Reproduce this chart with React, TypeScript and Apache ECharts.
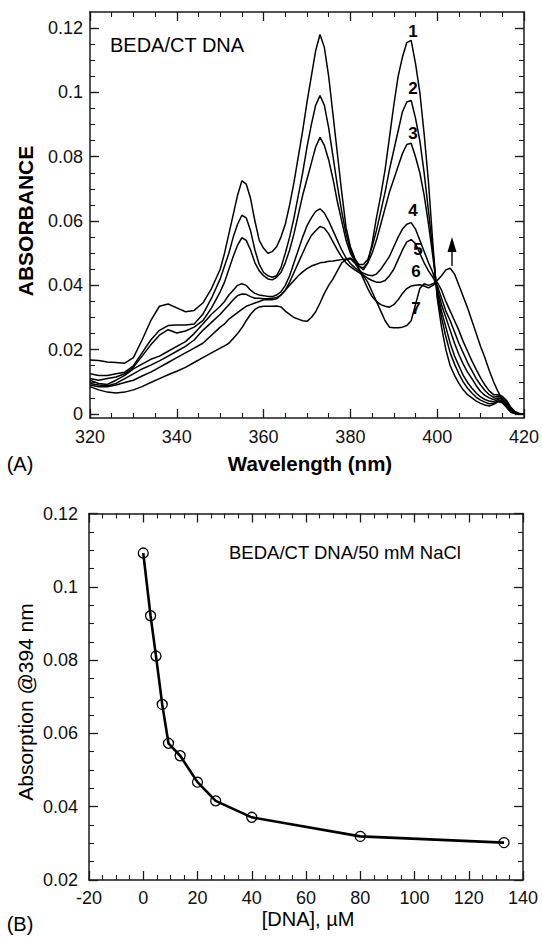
import React, { useEffect, useRef } from "react";
import * as echarts from "echarts";

// ---------- Panel A: absorption spectra ----------
const wavelengths = [
  320, 322, 324, 326, 328, 330, 332, 334, 336, 338, 340, 342, 344, 346, 348, 350,
  351, 352, 353, 354, 355, 356, 357, 358, 359, 360,
  361, 362, 363, 364, 365, 366, 367, 368, 369, 370,
  371, 372, 373, 374, 375, 376, 377, 378, 379, 380,
  381, 382, 383, 384, 385, 386, 387, 388, 389, 390,
  391, 392, 393, 394, 395, 396, 397, 398, 399, 400,
  401, 402, 403, 404, 405, 406, 407, 408, 409, 410,
  411, 412, 413, 414, 415, 416, 417, 418, 419, 420,
];

const curve1 = [
  0.0168, 0.0166, 0.0162, 0.016, 0.0158, 0.0175, 0.023, 0.029, 0.0335, 0.0342, 0.033, 0.0318, 0.0322, 0.0345, 0.039, 0.045,
  0.050, 0.056, 0.062, 0.068, 0.0725, 0.0715, 0.067, 0.060, 0.054, 0.0515,
  0.050, 0.0505, 0.052, 0.055, 0.059, 0.065, 0.072, 0.080, 0.088, 0.097,
  0.105, 0.113, 0.118, 0.114, 0.105, 0.093, 0.081, 0.069, 0.058, 0.052,
  0.0485, 0.046, 0.0448, 0.047, 0.053, 0.061, 0.068, 0.076, 0.086, 0.096,
  0.105, 0.111, 0.1155, 0.1162, 0.109, 0.100, 0.087, 0.072, 0.053, 0.036,
  0.027, 0.020, 0.015, 0.012, 0.0095, 0.0075, 0.006, 0.005, 0.004, 0.0033,
  0.0028, 0.0025, 0.003, 0.0038, 0.0035, 0.002, 0.0005, 0.0002, 0, 0,
];
const curve2 = [
  0.0125, 0.012, 0.012, 0.0125, 0.013, 0.015, 0.019, 0.023, 0.026, 0.0275, 0.0277, 0.0277, 0.028, 0.031, 0.036, 0.042,
  0.046, 0.050, 0.055, 0.059, 0.0618, 0.061, 0.057, 0.051, 0.0465, 0.044,
  0.043, 0.0425, 0.043, 0.0455, 0.050, 0.055, 0.061, 0.068, 0.075, 0.083,
  0.090, 0.096, 0.099, 0.096, 0.089, 0.080, 0.071, 0.063, 0.056, 0.051,
  0.048, 0.0465, 0.0465, 0.048, 0.052, 0.057, 0.063, 0.069, 0.076, 0.082,
  0.088, 0.094, 0.097, 0.0975, 0.092, 0.085, 0.075, 0.063, 0.051, 0.037,
  0.030, 0.024, 0.019, 0.0155, 0.0125, 0.010, 0.008, 0.0065, 0.0052, 0.0043,
  0.0037, 0.0032, 0.0033, 0.004, 0.0038, 0.0025, 0.001, 0.0003, 0, 0,
];
const curve3 = [
  0.011, 0.0105, 0.011, 0.0115, 0.0125, 0.0145, 0.018, 0.0215, 0.0245, 0.0262, 0.0252, 0.0258, 0.027, 0.029, 0.033, 0.038,
  0.041, 0.045, 0.049, 0.0525, 0.0548, 0.054, 0.051, 0.047, 0.0445, 0.043,
  0.042, 0.0417, 0.0425, 0.044, 0.047, 0.051, 0.056, 0.062, 0.068, 0.073,
  0.078, 0.083, 0.086, 0.0835, 0.079, 0.073, 0.066, 0.060, 0.054, 0.050,
  0.0475, 0.0458, 0.0455, 0.047, 0.050, 0.054, 0.059, 0.064, 0.069, 0.073,
  0.077, 0.081, 0.0838, 0.0842, 0.080, 0.075, 0.068, 0.059, 0.049, 0.038,
  0.032, 0.027, 0.022, 0.018, 0.015, 0.012, 0.0098, 0.008, 0.0065, 0.0053,
  0.0045, 0.004, 0.0038, 0.0045, 0.004, 0.003, 0.0012, 0.0004, 0, 0,
];
const curve4 = [
  0.0105, 0.0095, 0.0092, 0.0105, 0.012, 0.014, 0.0155, 0.017, 0.018, 0.0195, 0.021, 0.0225, 0.025, 0.028, 0.031, 0.0335,
  0.035, 0.037, 0.0385, 0.040, 0.0405, 0.040, 0.0385, 0.0375, 0.037, 0.0368,
  0.0365, 0.0365, 0.037, 0.038, 0.040, 0.043, 0.047, 0.051, 0.055, 0.0585,
  0.061, 0.063, 0.0638, 0.0625, 0.060, 0.057, 0.054, 0.051, 0.0485, 0.0468,
  0.0455, 0.0445, 0.0438, 0.0432, 0.043, 0.0435, 0.045, 0.047, 0.049, 0.052,
  0.055, 0.0575, 0.059, 0.0595, 0.0575, 0.054, 0.0505, 0.047, 0.044, 0.039,
  0.034, 0.030, 0.026, 0.022, 0.0185, 0.0155, 0.013, 0.011, 0.0088, 0.007,
  0.0058, 0.005, 0.0045, 0.005, 0.0045, 0.0033, 0.0015, 0.0005, 0, 0,
];
const curve5 = [
  0.0095, 0.009, 0.0088, 0.0095, 0.011, 0.0125, 0.014, 0.0152, 0.0165, 0.018, 0.0195, 0.021, 0.023, 0.026, 0.0285, 0.031,
  0.0325, 0.034, 0.0355, 0.0368, 0.0373, 0.0372, 0.0365, 0.036, 0.036, 0.0358,
  0.0358, 0.036, 0.0362, 0.037, 0.0385, 0.041, 0.044, 0.047, 0.050, 0.053,
  0.0555, 0.057, 0.0583, 0.0578, 0.056, 0.0535, 0.051, 0.0488, 0.047, 0.0458,
  0.0448, 0.044, 0.0432, 0.0422, 0.0415, 0.041, 0.041, 0.0415, 0.043, 0.045,
  0.048, 0.051, 0.0535, 0.0542, 0.053, 0.050, 0.047, 0.0445, 0.0425, 0.040,
  0.036, 0.032, 0.029, 0.0255, 0.022, 0.019, 0.016, 0.0135, 0.011, 0.009,
  0.0073, 0.006, 0.0052, 0.0055, 0.005, 0.0038, 0.0018, 0.0006, 0.0001, 0,
];
const curve6 = [
  0.009, 0.0085, 0.0085, 0.009, 0.0098, 0.0105, 0.0118, 0.013, 0.0145, 0.016, 0.0175, 0.019, 0.0205, 0.022, 0.0245, 0.027,
  0.028, 0.0295, 0.0305, 0.0315, 0.0325, 0.0335, 0.034, 0.0345, 0.035, 0.0355,
  0.0355, 0.0355, 0.0358, 0.037, 0.0385, 0.040, 0.0415, 0.043, 0.0442, 0.0452,
  0.046, 0.0465, 0.047, 0.0472, 0.0475, 0.0476, 0.0478, 0.048, 0.0482, 0.0485,
  0.0475, 0.045, 0.042, 0.039, 0.0365, 0.035, 0.034, 0.0335, 0.0332, 0.034,
  0.0355, 0.0375, 0.039, 0.0398, 0.040, 0.0402, 0.0398, 0.0392, 0.040, 0.041,
  0.0385, 0.035, 0.032, 0.029, 0.026, 0.0225, 0.0195, 0.0165, 0.0138, 0.0112,
  0.009, 0.0072, 0.006, 0.006, 0.0055, 0.0042, 0.002, 0.0007, 0.0001, 0,
];
const curve7 = [
  0.0085, 0.0075, 0.0068, 0.0065, 0.0068, 0.0075, 0.0085, 0.0098, 0.011, 0.0122, 0.0133, 0.0145, 0.016, 0.0175, 0.019, 0.0205,
  0.0212, 0.022, 0.0235, 0.025, 0.0268, 0.029, 0.031, 0.0325, 0.0333, 0.0335,
  0.0335, 0.0335, 0.0336, 0.0333, 0.032, 0.031, 0.030, 0.0295, 0.029, 0.0288,
  0.030, 0.0318, 0.0345, 0.0375, 0.040, 0.042, 0.0445, 0.047, 0.048, 0.0483,
  0.047, 0.045, 0.043, 0.041, 0.038, 0.035, 0.032, 0.029, 0.027, 0.0268,
  0.0268, 0.027, 0.0275, 0.029, 0.034, 0.039, 0.0405, 0.040, 0.0405, 0.0415,
  0.043, 0.0448, 0.0453, 0.0435, 0.040, 0.0365, 0.033, 0.029, 0.025, 0.021,
  0.0175, 0.0135, 0.010, 0.007, 0.0045, 0.0022, 0.0005, 0.0001, 0, 0,
];
const spectra = [curve1, curve2, curve3, curve4, curve5, curve6, curve7];
const curveLabels = ["1", "2", "3", "4", "5", "6", "7"];

const absTicksA = [0, 0.02, 0.04, 0.06, 0.08, 0.1, 0.12];
const absMinorA = [
  0, 0.005, 0.01, 0.015, 0.02, 0.025, 0.03, 0.035, 0.04, 0.045, 0.05, 0.055, 0.06,
  0.065, 0.07, 0.075, 0.08, 0.085, 0.09, 0.095, 0.1, 0.105, 0.11, 0.115, 0.12,
];

// ---------- Panel B: titration at 394 nm ----------
const dnaConc = [0, 2.7, 4.7, 7, 9.3, 13.6, 20, 26.7, 40, 80, 133];
const abs394 = [0.1092, 0.0921, 0.0811, 0.0679, 0.0573, 0.0539, 0.0467, 0.0416, 0.0371, 0.0319, 0.0302];

const FONT = "'Liberation Sans', Arial, Helvetica, sans-serif";
const AX = "#1a1a1a";

export default function App() {
  const ref = useRef<HTMLDivElement>(null);

  useEffect(() => {
    if (!ref.current) return;
    const chart = echarts.init(ref.current, undefined, { renderer: "svg" });

    const axisLine = { show: true, onZero: false, lineStyle: { color: AX, width: 1.5 } };
    const tick = (len: number, extra: any = {}) => ({
      show: true,
      inside: true,
      length: len,
      lineStyle: { color: AX, width: 1.3 },
      ...extra,
    });
    const minor = { show: true, splitNumber: 4, length: 5, lineStyle: { color: AX, width: 1.1 } };
    const label = (margin: number, extra: any = {}) => ({
      show: true,
      margin,
      fontSize: 18,
      fontFamily: FONT,
      color: "#111",
      ...extra,
    });
    const fmt = (v: number) => String(+(+v).toFixed(3));
    const off = { show: false };

    const yA = { min: -0.00125, max: 0.125, type: "value" as const, gridIndex: 0, splitLine: off };

    const text = (t: string, x: number, y: number, font: string, align = "center", rotation = 0) => ({
      type: "text",
      x,
      y,
      rotation,
      silent: true,
      style: {
        text: t,
        font,
        fill: "#000",
        align,
        textAlign: align,
        verticalAlign: "middle",
        textVerticalAlign: "middle",
      },
    });

    const labelPos: [number, number][] = [
      [413, 31], [413, 88], [413, 133], [413, 210], [418, 249], [416, 271], [416, 308],
    ];

    const option: any = {
      animation: false,
      backgroundColor: "#fff",
      grid: [
        { left: 90, top: 12, width: 437, height: 406 },
        { left: 89, top: 513.5, width: 434, height: 366.5 },
      ],
      xAxis: [
        {
          gridIndex: 0, type: "value", position: "bottom", min: 320, max: 420, interval: 20,
          axisLine, axisTick: tick(9), minorTick: minor, splitLine: off, minorSplitLine: off,
          axisLabel: label(10),
        },
        {
          gridIndex: 0, type: "value", position: "top", min: 320, max: 420, interval: 20,
          axisLine, axisTick: tick(9), minorTick: minor, splitLine: off, minorSplitLine: off,
          axisLabel: off,
        },
        {
          gridIndex: 1, type: "value", position: "bottom", min: -20, max: 140, interval: 20,
          axisLine, axisTick: tick(9), minorTick: minor, splitLine: off, minorSplitLine: off,
          axisLabel: label(9),
        },
        {
          gridIndex: 1, type: "value", position: "top", min: -20, max: 140, interval: 20,
          axisLine, axisTick: tick(9), minorTick: minor, splitLine: off, minorSplitLine: off,
          axisLabel: off,
        },
      ],
      yAxis: [
        {
          ...yA, position: "left", axisLine,
          axisTick: tick(9, { customValues: absTicksA }),
          axisLabel: label(7, { customValues: absTicksA, formatter: fmt }),
        },
        {
          ...yA, position: "left", axisLine: { show: false, onZero: false },
          axisTick: tick(5, { customValues: absMinorA, lineStyle: { color: AX, width: 1.1 } }),
          axisLabel: off,
        },
        {
          ...yA, position: "right", axisLine,
          axisTick: tick(9, { customValues: absTicksA }),
          axisLabel: off,
        },
        {
          ...yA, position: "right", axisLine: { show: false, onZero: false },
          axisTick: tick(5, { customValues: absMinorA, lineStyle: { color: AX, width: 1.1 } }),
          axisLabel: off,
        },
        {
          gridIndex: 1, type: "value", position: "left", min: 0.02, max: 0.12, interval: 0.02,
          axisLine, axisTick: tick(9), minorTick: minor, splitLine: off, minorSplitLine: off,
          axisLabel: label(11, { formatter: fmt }),
        },
        {
          gridIndex: 1, type: "value", position: "right", min: 0.02, max: 0.12, interval: 0.02,
          axisLine, axisTick: tick(9), minorTick: minor, splitLine: off, minorSplitLine: off,
          axisLabel: off,
        },
      ],
      series: [
        ...spectra.map((c, k) => ({
          name: "curve " + curveLabels[k],
          type: "line",
          xAxisIndex: 0,
          yAxisIndex: 0,
          showSymbol: false,
          symbol: "none",
          clip: true,
          data: wavelengths.map((w, i) => [w, c[i]]),
          lineStyle: { color: "#000", width: 1.5 },
        })),
        {
          name: "A394",
          type: "line",
          xAxisIndex: 2,
          yAxisIndex: 4,
          symbol: "circle",
          symbolSize: 10,
          data: dnaConc.map((d, i) => [d, abs394[i]]),
          lineStyle: { color: "#000", width: 2.6 },
          itemStyle: { color: "rgba(0,0,0,0)", borderColor: "#000", borderWidth: 1.3 },
          z: 3,
        },
      ],
      graphic: [
        text("BEDA/CT DNA", 110, 45, `20px ${FONT}`, "left"),
        ...curveLabels.map((t, k) => text(t, labelPos[k][0], labelPos[k][1], `bold 17px ${FONT}`)),
        { type: "line", silent: true, shape: { x1: 452, y1: 266, x2: 452, y2: 246 }, style: { stroke: "#000", lineWidth: 1.4 } },
        { type: "polygon", silent: true, shape: { points: [[452, 237], [447.5, 252], [456.5, 252]] }, style: { fill: "#000" } },
        text("ABSORBANCE", 25, 221, `bold 21px ${FONT}`, "center", Math.PI / 2),
        text("Wavelength (nm)", 310, 463, `bold 20.5px ${FONT}`),
        text("(A)", 20, 464, `20px ${FONT}`),
        text("BEDA/CT DNA/50 mM NaCl", 229, 552, `18.5px ${FONT}`, "left"),
        text("Absorption @394 nm", 25, 702, `21px ${FONT}`, "center", Math.PI / 2),
        text("[DNA], \u00B5M", 308, 919, `20px ${FONT}`),
        text("(B)", 20, 924, `20px ${FONT}`),
      ],
    };

    chart.setOption(option);
    return () => chart.dispose();
  }, []);

  return (
    <div
      ref={ref}
      style={{ position: "fixed", left: 0, top: 0, width: 542, height: 937, background: "#fff" }}
    />
  );
}
